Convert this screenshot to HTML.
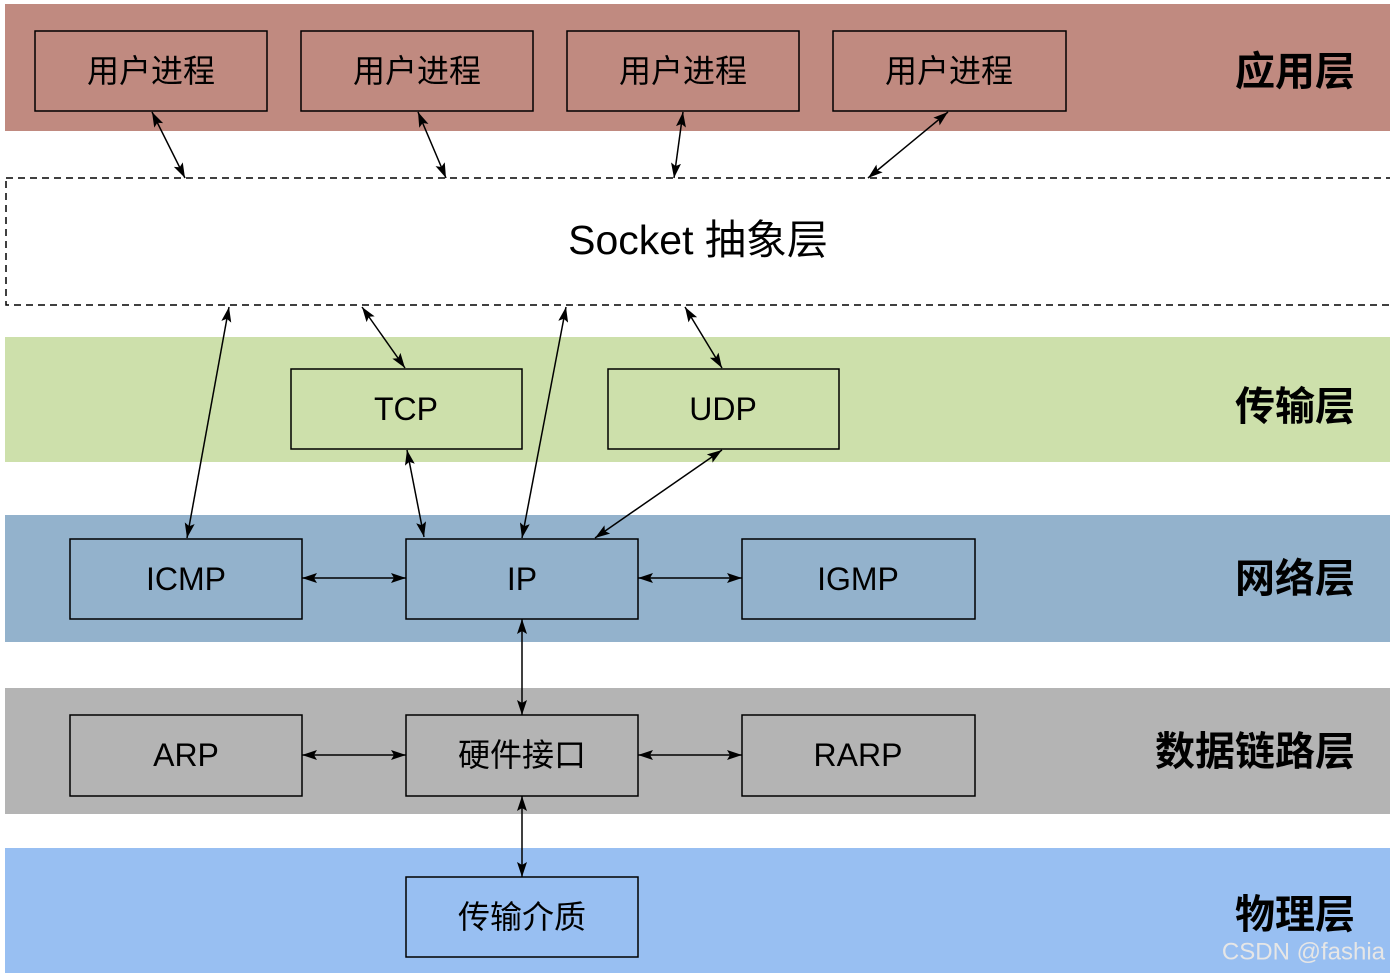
<!DOCTYPE html>
<html><head><meta charset="utf-8"><style>
body{margin:0;background:#fff;}
svg{display:block;font-family:"Liberation Sans","Noto Sans CJK SC",sans-serif;}
</style></head><body>
<svg width="1390" height="976" viewBox="0 0 1390 976" xmlns="http://www.w3.org/2000/svg">
<defs>
<marker id="a" viewBox="0 0 10 10" refX="10" refY="5" markerWidth="15" markerHeight="10" preserveAspectRatio="none" orient="auto-start-reverse" markerUnits="userSpaceOnUse">
<path d="M0,0 L10,5 L0,10 L2,5 z" fill="#000"/></marker>
</defs>
<style>
.b{stroke:#000;stroke-width:1.5;}
.t{font-size:32px;text-anchor:middle;dominant-baseline:central;}
.l{font-size:40px;font-weight:bold;text-anchor:end;dominant-baseline:central;}
.ar{stroke:#000;stroke-width:1.5;marker-start:url(#a);marker-end:url(#a);fill:none;}
</style>
<rect x="5" y="4" width="1385" height="127" fill="#c08a80"/>
<rect x="5" y="337" width="1385" height="125" fill="#cde0ab"/>
<rect x="5" y="515" width="1385" height="127" fill="#93b2cc"/>
<rect x="5" y="688" width="1385" height="126" fill="#b4b4b4"/>
<rect x="5" y="848" width="1385" height="125" fill="#98bff2"/>
<rect x="6" y="178" width="1390" height="127" fill="#fff" stroke="#000" stroke-width="1.5" stroke-dasharray="7,5"/>

<g fill="#c08a80" class="b">
<rect x="35" y="31" width="232" height="80"/><rect x="301" y="31" width="232" height="80"/>
<rect x="567" y="31" width="232" height="80"/><rect x="833" y="31" width="233" height="80"/>
</g>
<g fill="#cde0ab" class="b"><rect x="291" y="369" width="231" height="80"/><rect x="608" y="369" width="231" height="80"/></g>
<g fill="#93b2cc" class="b"><rect x="70" y="539" width="232" height="80"/><rect x="406" y="539" width="232" height="80"/><rect x="742" y="539" width="233" height="80"/></g>
<g fill="#b4b4b4" class="b"><rect x="70" y="715" width="232" height="81"/><rect x="406" y="715" width="232" height="81"/><rect x="742" y="715" width="233" height="81"/></g>
<rect x="406" y="877" width="232" height="80" fill="#98bff2" class="b"/>

<g class="t">
<text x="151" y="71">用户进程</text><text x="417" y="71">用户进程</text><text x="683" y="71">用户进程</text><text x="949" y="71">用户进程</text>
<text x="406" y="409">TCP</text><text x="723" y="409">UDP</text>
<text x="186" y="579">ICMP</text><text x="522" y="579">IP</text><text x="858" y="579">IGMP</text>
<text x="186" y="755">ARP</text><text x="522" y="755">硬件接口</text><text x="858" y="755">RARP</text>
<text x="522" y="917">传输介质</text>
</g>
<text x="698" y="240" font-size="41" text-anchor="middle" dominant-baseline="central">Socket 抽象层</text>
<g class="l">
<text x="1355" y="72">应用层</text><text x="1355" y="407">传输层</text><text x="1355" y="579">网络层</text>
<text x="1355" y="752">数据链路层</text><text x="1355" y="915">物理层</text>
</g>
<text x="1385" y="952" font-size="24" fill="#e6e6e6" text-anchor="end" dominant-baseline="central">CSDN @fashia</text>

<g class="ar">
<line x1="152" y1="112" x2="185" y2="178"/><line x1="418" y1="112" x2="446" y2="178"/>
<line x1="683" y1="112" x2="674" y2="178"/><line x1="948" y1="112" x2="868" y2="178"/>
<line x1="229" y1="307" x2="187" y2="538"/><line x1="362" y1="307" x2="405" y2="368"/>
<line x1="566" y1="307" x2="522" y2="538"/><line x1="685" y1="307" x2="722" y2="368"/>
<line x1="407" y1="450" x2="424" y2="537"/><line x1="722" y1="450" x2="595" y2="538"/>
<line x1="302" y1="578" x2="406" y2="578"/><line x1="638" y1="578" x2="742" y2="578"/>
<line x1="302" y1="755" x2="406" y2="755"/><line x1="638" y1="755" x2="742" y2="755"/>
<line x1="522" y1="619" x2="522" y2="715"/><line x1="522" y1="796" x2="522" y2="877"/>
</g>
</svg>
</body></html>
